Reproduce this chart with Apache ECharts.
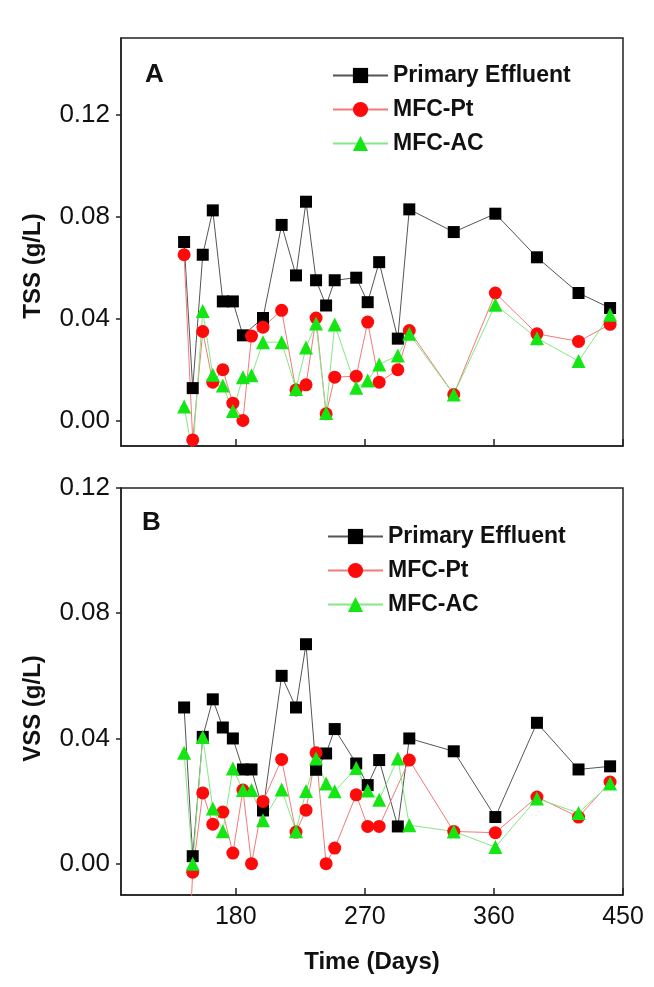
<!DOCTYPE html>
<html>
<head>
<meta charset="utf-8">
<script src="https://cdn.jsdelivr.net/npm/echarts/dist/echarts.min.js"></script>
<style>
html,body{margin:0;padding:0;background:#fff;}
#chart{width:654px;height:987px;}
</style>
</head>
<body>
<div id="chart"></div>
<script>
// ---- Data (Time in days, concentration in g/L) ----
const seriesNames = ['Primary Effluent', 'MFC-Pt', 'MFC-AC'];

// Panel A: TSS
const tssPrimaryDays = [144,150,157,164,171,178,185,199,212,222,229,236,243,249,264,272,280,293,301,332,361,390,419,441];
const tssPrimary     = [0.070,0.0127,0.065,0.0824,0.0467,0.0467,0.0334,0.0402,0.0767,0.0569,0.0858,0.0550,0.0451,0.0550,0.0560,0.0464,0.0621,0.0321,0.0828,0.0739,0.0811,0.0640,0.0500,0.0441];
const tssPtDays = [144,150,157,164,171,178,185,191,199,212,222,229,236,243,249,264,272,280,293,301,332,361,390,419,441];
const tssPt     = [0.065,-0.0076,0.0349,0.0150,0.0199,0.0068,0.000,0.0331,0.0366,0.0432,0.0120,0.0140,0.0402,0.0026,0.0170,0.0174,0.0386,0.0150,0.0199,0.0353,0.0102,0.0500,0.0340,0.0310,0.0377];
const tssAcDays = [144,150,157,164,171,178,185,191,199,212,222,229,236,243,249,264,272,280,293,301,332,361,390,419,441];
const tssAc     = [0.0055,-0.013,0.0429,0.0179,0.0137,0.0037,0.0170,0.0177,0.0307,0.0307,0.0124,0.0286,0.0380,0.0029,0.0376,0.0128,0.0157,0.0220,0.0255,0.0340,0.0102,0.0454,0.0323,0.0233,0.0415];

// Panel B: VSS
const vssPrimaryDays = [144,150,157,164,171,178,185,191,199,212,222,229,236,243,249,264,272,280,293,301,332,361,390,419,441];
const vssPrimary     = [0.0499,0.0024,0.0405,0.0525,0.0435,0.0400,0.0301,0.0301,0.0170,0.0600,0.0499,0.0701,0.0300,0.0352,0.0430,0.0320,0.0251,0.0331,0.0119,0.0400,0.0359,0.0149,0.0450,0.0301,0.0311];
const vssPtDays = [144,150,157,164,171,178,185,191,199,212,222,229,236,243,249,264,272,280,301,332,361,390,419,441];
const vssPt     = [-0.06,-0.0027,0.0226,0.0126,0.0165,0.0034,0.0235,0.000,0.0199,0.0333,0.0101,0.0171,0.0354,0.000,0.0050,0.0220,0.0119,0.0119,0.0331,0.0103,0.0099,0.0213,0.0149,0.0261];
const vssAcDays = [144,150,157,164,171,178,185,191,199,212,222,229,236,243,249,264,272,280,293,301,332,361,390,419,441];
const vssAc     = [0.0354,0.000,0.0405,0.0176,0.0104,0.0304,0.0235,0.0235,0.0139,0.0237,0.0104,0.0232,0.0336,0.0256,0.0231,0.0306,0.0234,0.0204,0.0336,0.0123,0.0103,0.0053,0.0208,0.0162,0.0256];

// Tick values
const xTicks = [180, 270, 360, 450];
const yTicks = [0.00, 0.04, 0.08, 0.12];

// ---- Chart ----
const FONT = 'Liberation Sans, Arial, sans-serif';
const pairs = (d, v) => d.map((x, i) => [x, v[i]]);

const styles = [
  {symbol: 'rect', symbolSize: 12, color: '#000000', line: '#555555'},
  {symbol: 'circle', symbolSize: 13, color: '#ff0a0a', line: '#f27a7a'},
  {symbol: 'triangle', symbolSize: 14, color: '#14e614', line: '#84e884'}
];

function mkSeries(name, idx, grid, data) {
  const s = styles[idx];
  return {
    name: name, type: 'line', xAxisIndex: grid, yAxisIndex: grid,
    data: data, symbol: s.symbol, symbolSize: s.symbolSize,
    showAllSymbol: true, clip: true, animation: false,
    itemStyle: {color: s.color},
    lineStyle: {color: s.line, width: 1}
  };
}

function mkX(grid, showLabels) {
  return {
    type: 'value', gridIndex: grid, min: 100, max: 450,
    axisLine: {show: true, onZero: false, lineStyle: {color: '#222', width: 1.5}},
    axisTick: {show: true, inside: true, length: 7, customValues: xTicks, lineStyle: {color: '#222', width: 1.5}},
    axisLabel: {show: showLabels, customValues: xTicks, fontSize: 25, color: '#111', fontFamily: FONT, margin: 10},
    splitLine: {show: false},
    name: showLabels ? 'Time (Days)' : '',
    nameLocation: 'middle', nameGap: 55,
    nameTextStyle: {fontSize: 24, fontWeight: 'bold', color: '#111', fontFamily: FONT}
  };
}

function mkY(grid, max, name, shift) {
  return {
    type: 'value', gridIndex: grid, min: -0.01, max: max,
    axisLine: {show: true, onZero: false, lineStyle: {color: '#222', width: 1.5}},
    axisTick: {show: true, inside: false, length: 5, customValues: yTicks, lineStyle: {color: '#222', width: 1.5}},
    axisLabel: {customValues: yTicks, fontSize: 26, color: '#111', fontFamily: FONT, margin: 11,
                formatter: v => v.toFixed(2)},
    splitLine: {show: false},
    name: name, nameLocation: 'middle', nameGap: 76,
    nameTextStyle: {fontSize: 24, fontWeight: 'bold', color: '#111', fontFamily: FONT,
                    padding: [0, shift * 2, 0, 0]}
  };
}

const legendBase = {
  orient: 'vertical', padding: 0, itemWidth: 55, itemHeight: 19, itemGap: 11,
  textStyle: {fontSize: 23, fontWeight: 'bold', color: '#111', fontFamily: FONT, lineHeight: 19},
  data: seriesNames, selectedMode: false
};

const option = {
  backgroundColor: '#ffffff',
  animation: false,
  title: [
    {text: 'A', left: 145, top: 62, padding: 0, textStyle: {fontSize: 26, fontWeight: 'bold', color: '#111', fontFamily: FONT}},
    {text: 'B', left: 142, top: 510, padding: 0, textStyle: {fontSize: 26, fontWeight: 'bold', color: '#111', fontFamily: FONT}}
  ],
  legend: [
    Object.assign({}, legendBase, {left: 332, top: 64}),
    Object.assign({}, legendBase, {left: 327, top: 525})
  ],
  grid: [
    {left: 121, top: 38, width: 502, height: 408, show: true, borderColor: '#222', borderWidth: 1.5, backgroundColor: 'transparent'},
    {left: 121, top: 488, width: 502, height: 407, show: true, borderColor: '#222', borderWidth: 1.5, backgroundColor: 'transparent'}
  ],
  xAxis: [mkX(0, false), mkX(1, true)],
  yAxis: [mkY(0, 0.15, 'TSS (g/L)', 24), mkY(1, 0.12, 'VSS (g/L)', 17)],
  series: [
    mkSeries(seriesNames[0], 0, 0, pairs(tssPrimaryDays, tssPrimary)),
    mkSeries(seriesNames[1], 1, 0, pairs(tssPtDays, tssPt)),
    mkSeries(seriesNames[2], 2, 0, pairs(tssAcDays, tssAc)),
    mkSeries(seriesNames[0], 0, 1, pairs(vssPrimaryDays, vssPrimary)),
    mkSeries(seriesNames[1], 1, 1, pairs(vssPtDays, vssPt)),
    mkSeries(seriesNames[2], 2, 1, pairs(vssAcDays, vssAc))
  ]
};

const chart = echarts.init(document.getElementById('chart'), null, {renderer: 'canvas'});
chart.setOption(option);
</script>
</body>
</html>
